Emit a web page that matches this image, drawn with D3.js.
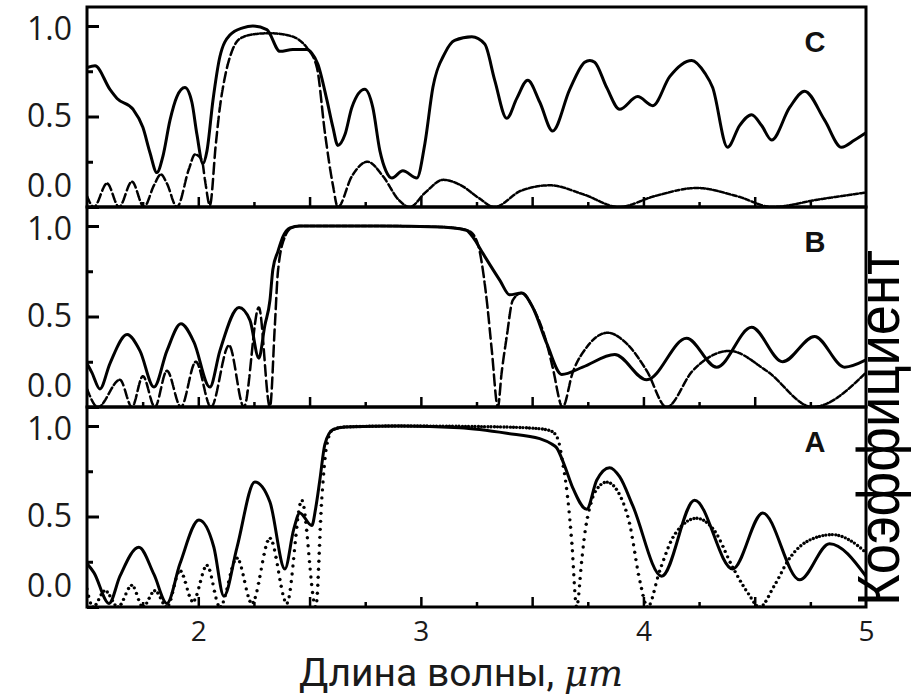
<!DOCTYPE html>
<html><head><meta charset="utf-8">
<script src="https://cdn.jsdelivr.net/npm/d3@7"></script>
<style>body{margin:0;background:#fff}svg{display:block}</style>
</head><body>
<svg id="chart" width="912" height="696"></svg>
<script>
// ---------- data ----------
const panelNames = ["C", "B", "A"];
const xTickValues = [2, 3, 4, 5];
const xTickLabels = ["2", "3", "4", "5"];
const yTickValues = [0, 0.5, 1.0];
const yTickLabels = ["0.0", "0.5", "1.0"];
const xTitle = "Длина волны, ";
const xTitleUnit = "μm";
const yTitle = "Коэффициент";

const cSolidX = [1.50,1.536,1.603,1.635,1.707,1.751,1.783,1.814,1.841,1.873,1.904,1.940,1.971,1.994,2.021,2.039,2.066,2.097,2.142,2.200,2.245,2.308,2.367,2.425,2.488,2.510,2.537,2.578,2.605,2.627,2.659,2.690,2.748,2.784,2.816,2.843,2.870,2.919,2.982,3.018,3.054,3.108,3.152,3.229,3.287,3.332,3.386,3.431,3.480,3.534,3.592,3.669,3.736,3.759,3.781,3.835,3.893,3.974,4.042,4.118,4.217,4.276,4.311,4.378,4.432,4.486,4.531,4.576,4.657,4.724,4.814,4.890,4.949,5.0];
const cSolidY = [0.77,0.78,0.65,0.60,0.54,0.44,0.30,0.19,0.28,0.48,0.61,0.66,0.58,0.40,0.24,0.31,0.59,0.83,0.95,0.99,1.00,0.98,0.86,0.87,0.87,0.85,0.79,0.59,0.44,0.34,0.40,0.55,0.65,0.55,0.31,0.20,0.16,0.20,0.16,0.35,0.66,0.85,0.92,0.94,0.90,0.70,0.49,0.60,0.70,0.58,0.42,0.65,0.80,0.81,0.80,0.66,0.54,0.61,0.56,0.72,0.81,0.74,0.66,0.33,0.45,0.51,0.45,0.37,0.55,0.64,0.48,0.33,0.37,0.41];
const cDashX = [1.50,1.531,1.59,1.644,1.702,1.756,1.801,1.832,1.859,1.904,1.958,1.985,2.016,2.030,2.052,2.079,2.097,2.120,2.151,2.187,2.254,2.32,2.398,2.456,2.488,2.533,2.569,2.605,2.627,2.69,2.76,2.83,2.90,2.95,3.02,3.10,3.18,3.26,3.33,3.45,3.58,3.73,3.89,4.05,4.24,4.42,4.58,4.78,5.0];
const cDashY = [0.06,0.0,0.13,0.0,0.14,0.0,0.12,0.18,0.13,0.0,0.21,0.29,0.26,0.15,0.01,0.35,0.55,0.72,0.86,0.93,0.955,0.96,0.95,0.92,0.88,0.77,0.41,0.12,0.0,0.17,0.25,0.17,0.04,0.0,0.08,0.15,0.12,0.05,0.0,0.09,0.12,0.07,0.0,0.06,0.105,0.06,0.0,0.04,0.08];

const bSolidX = [1.50,1.522,1.558,1.603,1.680,1.738,1.801,1.859,1.922,1.980,2.052,2.097,2.183,2.232,2.272,2.299,2.322,2.335,2.358,2.380,2.412,2.456,2.816,3.085,3.175,3.206,3.233,3.278,3.355,3.399,3.453,3.503,3.566,3.633,3.727,3.871,4.015,4.194,4.329,4.486,4.625,4.769,4.904,5.0];
const bSolidY = [0.24,0.19,0.10,0.24,0.40,0.31,0.11,0.31,0.46,0.36,0.11,0.31,0.55,0.48,0.27,0.45,0.59,0.76,0.86,0.94,0.99,1.0,1.0,0.995,0.985,0.975,0.94,0.85,0.70,0.62,0.63,0.55,0.35,0.18,0.22,0.29,0.15,0.38,0.22,0.44,0.25,0.39,0.22,0.26];
const bDashX = [1.50,1.549,1.648,1.702,1.751,1.805,1.859,1.922,1.989,2.057,2.138,2.205,2.272,2.322,2.344,2.358,2.389,2.42,2.456,2.816,3.085,3.175,3.22,3.256,3.296,3.319,3.346,3.363,3.386,3.413,3.453,3.503,3.566,3.592,3.637,3.682,3.745,3.839,3.925,4.015,4.104,4.221,4.387,4.553,4.760,5.0];
const bDashY = [0.10,0.0,0.15,0.0,0.17,0.0,0.20,0.0,0.25,0.0,0.34,0.0,0.55,0.0,0.45,0.75,0.94,0.99,1.0,1.0,0.995,0.985,0.97,0.90,0.59,0.31,0.0,0.19,0.39,0.59,0.63,0.55,0.35,0.22,0.0,0.19,0.33,0.41,0.35,0.20,0.0,0.20,0.31,0.20,0.0,0.19];

const aSolidX = [1.50,1.531,1.599,1.648,1.733,1.801,1.859,1.918,2.003,2.070,2.115,2.174,2.254,2.322,2.389,2.429,2.456,2.510,2.528,2.546,2.569,2.605,2.66,2.905,3.175,3.386,3.534,3.588,3.610,3.646,3.682,3.745,3.790,3.848,3.893,3.952,4.082,4.230,4.401,4.536,4.702,4.836,5.0];
const aSolidY = [0.24,0.19,0.02,0.17,0.33,0.18,0.02,0.24,0.48,0.33,0.06,0.33,0.69,0.58,0.21,0.43,0.52,0.45,0.55,0.70,0.90,0.98,0.995,1.0,0.99,0.96,0.93,0.90,0.88,0.78,0.66,0.54,0.70,0.77,0.72,0.56,0.17,0.59,0.21,0.52,0.15,0.35,0.17];
const aDotX = [1.50,1.527,1.581,1.639,1.702,1.751,1.805,1.859,1.918,1.976,2.039,2.097,2.174,2.241,2.322,2.398,2.465,2.528,2.555,2.578,2.605,2.66,2.905,3.355,3.534,3.588,3.615,3.637,3.66,3.678,3.70,3.723,3.736,3.759,3.790,3.835,3.893,3.938,3.983,4.019,4.073,4.140,4.239,4.320,4.401,4.468,4.522,4.589,4.657,4.747,4.850,4.926,5.0];
const aDotY = [0.10,0.0,0.09,0.0,0.12,0.0,0.09,0.0,0.20,0.03,0.23,0.0,0.27,0.02,0.38,0.02,0.59,0.0,0.60,0.90,0.98,0.995,1.0,0.995,0.985,0.97,0.93,0.80,0.60,0.36,0.0,0.26,0.40,0.55,0.65,0.69,0.62,0.46,0.15,0.0,0.20,0.40,0.49,0.42,0.22,0.08,0.0,0.12,0.27,0.37,0.40,0.37,0.30];

// ---------- layout ----------
const left = 87, right = 866;
const panelTops = [7, 207, 407];
const panelH = 200;
const svg = d3.select("#chart");
const x = d3.scaleLinear().domain([1.5, 5]).range([left, right]);

const panelSeries = {
  C: [{xs: cSolidX, ys: cSolidY, style: "solid"}, {xs: cDashX, ys: cDashY, style: "dash"}],
  B: [{xs: bSolidX, ys: bSolidY, style: "solid"}, {xs: bDashX, ys: bDashY, style: "dash"}],
  A: [{xs: aSolidX, ys: aSolidY, style: "solid"}, {xs: aDotX, ys: aDotY, style: "dot"}]
};

// walk along a rendered path; the pattern parameter grows with x and (less) with y
function walk(d, cb) {
  const tmp = svg.append("path").attr("d", d).attr("fill", "none");
  const node = tmp.node();
  const L = node.getTotalLength();
  let prev = node.getPointAtLength(0), u = 0;
  cb(prev, prev, 0, true);
  for (let s = 0.5; s <= L + 0.49; s += 0.5) {
    const p = node.getPointAtLength(Math.min(s, L));
    const dx = p.x - prev.x, dy = p.y - prev.y;
    u += Math.sqrt(dx * dx + 0.16 * dy * dy);
    cb(prev, p, u, false);
    prev = p;
  }
  tmp.remove();
}
function dashedPath(d, period, on) {
  const segs = []; let cur = null;
  walk(d, (prev, p, u, first) => {
    if (first) return;
    if ((u % period) < on) {
      if (!cur) cur = [[prev.x, prev.y]];
      cur.push([p.x, p.y]);
    } else if (cur) { segs.push(cur); cur = null; }
  });
  if (cur) segs.push(cur);
  return segs.filter(s => s.length > 1)
    .map(s => "M" + s.map(q => q[0].toFixed(2) + "," + q[1].toFixed(2)).join("L")).join("");
}
function dotPoints(d, step) {
  const pts = []; let next = 0;
  walk(d, (prev, p, u) => {
    if (u >= next) { pts.push([p.x, p.y]); next += step; }
  });
  return pts;
}

panelNames.forEach((name, i) => {
  const top = panelTops[i], bottom = top + panelH;
  const y = d3.scaleLinear().domain([0, 1.105]).range([bottom, top]);
  const g = svg.append("g");

  g.append("clipPath").attr("id", "clip" + name)
    .append("rect").attr("x", left).attr("y", top).attr("width", right - left).attr("height", panelH);
  const plot = g.append("g").attr("clip-path", `url(#clip${name})`);

  panelSeries[name].forEach(s => {
    const pts = s.xs.map((v, k) => [v, s.ys[k]]);
    const line = d3.line().x(p => x(p[0])).y(p => y(p[1])).curve(d3.curveMonotoneX);
    const d = line(pts);
    if (s.style === "solid") {
      plot.append("path").attr("d", d).attr("fill", "none").attr("stroke", "#000")
        .attr("stroke-width", 3).attr("stroke-linejoin", "round").attr("stroke-linecap", "round");
    } else if (s.style === "dash") {
      plot.append("path").attr("d", dashedPath(d, 6.4, 4.4)).attr("fill", "none").attr("stroke", "#000")
        .attr("stroke-width", 2.5).attr("stroke-linecap", "round").attr("stroke-linejoin", "round");
    } else {
      plot.selectAll(null).data(dotPoints(d, 3.2)).enter().append("circle")
        .attr("cx", p => p[0]).attr("cy", p => p[1]).attr("r", 1.7).attr("fill", "#000");
    }
  });

  // y axis: major + minor inward ticks
  const yAx = g.append("g").attr("transform", `translate(${left},0)`)
    .call(d3.axisLeft(y).tickValues(yTickValues).tickSize(-12).tickPadding(15)
      .tickFormat((d, k) => yTickLabels[k]));
  yAx.select(".domain").remove();
  yAx.selectAll("line").attr("stroke", "#000").attr("stroke-width", 3);
  yAx.selectAll("text").attr("font-family", "Open Sans, sans-serif").attr("font-size", 32).attr("fill", "#1a1a1a");
  yAx.selectAll(".tick").filter(d => d === 0).select("text").attr("y", -21);
  yAx.selectAll(".tick").filter(d => d === 1).select("text").attr("y", 3);
  const yMin = g.append("g").attr("transform", `translate(${left},0)`)
    .call(d3.axisLeft(y).tickValues([0.25, 0.75]).tickSize(-6).tickFormat(""));
  yMin.select(".domain").remove();
  yMin.selectAll("line").attr("stroke", "#000").attr("stroke-width", 3);

  // x ticks on the bottom of each panel
  const xMaj = g.append("g").attr("transform", `translate(0,${bottom})`)
    .call(d3.axisBottom(x).tickValues([2, 2.5, 3, 3.5, 4, 4.5]).tickSize(-10).tickFormat(""));
  xMaj.select(".domain").remove();
  xMaj.selectAll("line").attr("stroke", "#000").attr("stroke-width", 2.5);
  const xMin = g.append("g").attr("transform", `translate(0,${bottom})`)
    .call(d3.axisBottom(x).tickValues([1.75, 2.25, 2.75, 3.25, 3.75, 4.25, 4.75]).tickSize(-5).tickFormat(""));
  xMin.select(".domain").remove();
  xMin.selectAll("line").attr("stroke", "#000").attr("stroke-width", 2.5);

  // frame
  g.append("rect").attr("x", left).attr("y", top).attr("width", right - left).attr("height", panelH)
    .attr("fill", "none").attr("stroke", "#000").attr("stroke-width", 3);

  // panel letter
  g.append("text").attr("x", 815).attr("y", top + 45).attr("text-anchor", "middle")
    .attr("font-family", "Liberation Sans, Arial, sans-serif").attr("font-weight", "bold")
    .attr("font-size", 29).attr("fill", "#111").text(name);

  if (i === panelNames.length - 1) {
    const xLab = g.append("g").attr("transform", `translate(0,${bottom})`)
      .call(d3.axisBottom(x).tickValues(xTickValues).tickSize(0).tickPadding(14)
        .tickFormat((d, k) => xTickLabels[k]));
    xLab.select(".domain").remove();
    xLab.selectAll("text").attr("font-family", "Open Sans, sans-serif").attr("font-size", 28).attr("fill", "#1a1a1a");
  }
});

// x title
const xt = svg.append("text").attr("x", 461).attr("y", 686).attr("text-anchor", "middle")
  .attr("font-family", "Roboto, sans-serif").attr("font-size", 39).attr("fill", "#1a1a1a");
xt.append("tspan").text(xTitle);
xt.append("tspan").attr("font-family", "DejaVu Serif, Liberation Serif, serif").attr("font-style", "italic")
  .attr("font-size", 37).text(xTitleUnit);

// right-hand vertical title
svg.append("text").attr("transform", "translate(899,606) rotate(-90)")
  .attr("font-family", "Liberation Sans, Arial, sans-serif").attr("font-size", 60)
  .attr("textLength", 356).attr("lengthAdjust", "spacingAndGlyphs").attr("fill", "#000")
  .text(yTitle);
</script>
</body></html>
